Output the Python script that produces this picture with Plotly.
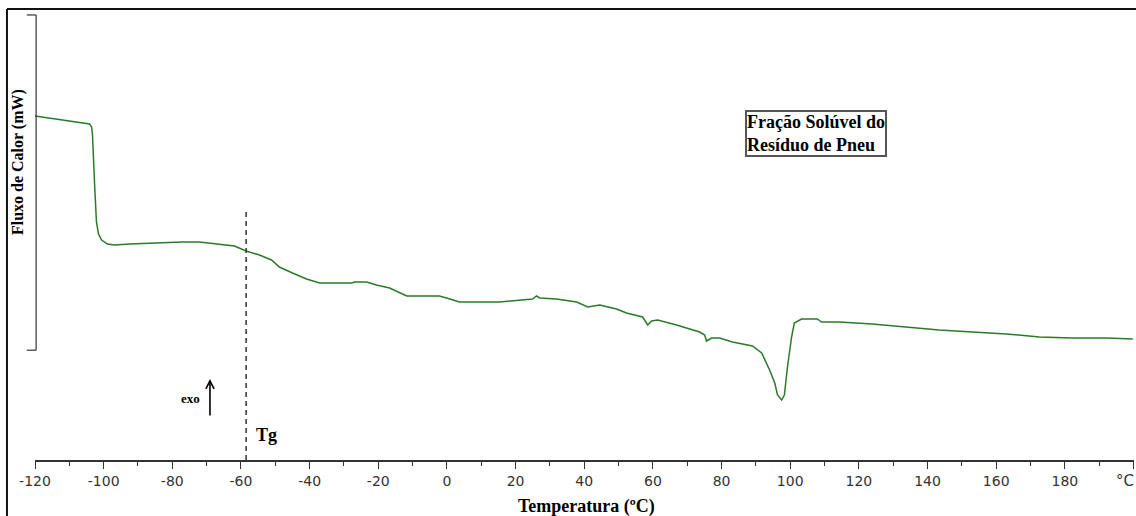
import plotly.graph_objects as go

# DSC curve: temperature (°C) and heat flow (mW, arbitrary offset)
temperature = [-120, -104.1, -103.5, -103.25, -102.7, -102.1, -101.5, -100.6, -98.9, -96.8,
               -92.5, -86.6, -77.0, -72.1, -66.3, -61.9, -58.5, -54.6, -51.1, -48.8,
               -45.0, -40.9, -37.1, -27.8, -26.9, -23.4, -20.5, -16.7, -11.7, -2.2,
               -0.1, 3.7, 7.5, 15.4, 24.9, 26.1, 27.0, 31.9, 37.8, 41.0,
               44.5, 49.4, 52.3, 57.0, 58.5, 59.6, 61.4, 66.9, 73.6, 75.1,
               75.6, 77.1, 79.4, 83.2, 89.0, 91.7, 94.0, 95.5, 96.3, 97.5,
               98.3, 99.2, 100.4, 101.2, 103.3, 107.9, 109.1, 114.3, 123.9, 133.8,
               143.4, 153.1, 163.0, 172.6, 182.2, 192.2, 199.8]
heat_flow = [3.44, 3.36, 3.33, 3.25, 2.80, 2.38, 2.26, 2.20, 2.16, 2.15,
             2.16, 2.17, 2.18, 2.18, 2.16, 2.14, 2.09, 2.05, 2.00, 1.93,
             1.87, 1.81, 1.77, 1.77, 1.78, 1.78, 1.75, 1.72, 1.64, 1.64,
             1.62, 1.58, 1.58, 1.58, 1.61, 1.64, 1.62, 1.61, 1.58, 1.53,
             1.55, 1.51, 1.47, 1.43, 1.35, 1.39, 1.40, 1.35, 1.28, 1.25,
             1.19, 1.22, 1.22, 1.18, 1.14, 1.07, 0.90, 0.77, 0.65, 0.60,
             0.65, 0.93, 1.23, 1.37, 1.41, 1.41, 1.38, 1.38, 1.36, 1.33,
             1.30, 1.28, 1.26, 1.23, 1.22, 1.22, 1.21]

# Glass transition marker
tg_temperature = -58.5

# Axis ticks (the last position carries the unit instead of a number)
major_ticks = [-120, -100, -80, -60, -40, -20, 0, 20, 40, 60, 80, 100, 120, 140, 160, 180, 200]
major_labels = ["-120", "-100", "-80", "-60", "-40", "-20", "0", "20", "40", "60", "80",
                "100", "120", "140", "160", "180", ""]
unit_label = "°C"
minor_ticks = [-110, -90, -70, -50, -30, -10, 10, 30, 50, 70, 90, 110, 130, 150, 170, 190]

serif = "Liberation Serif, Times New Roman, serif"
sans = "Verdana, DejaVu Sans, sans-serif"
tick_font = dict(family=sans, size=14, color="#333333")

fig = go.Figure()
fig.add_trace(go.Scatter(
    x=temperature, y=heat_flow, mode="lines",
    line=dict(color="#2b7a2b", width=1.5),
    hoverinfo="skip", showlegend=False,
))

fig.update_layout(
    width=1136, height=516,
    margin=dict(l=35, r=2, t=10, b=56),
    paper_bgcolor="white", plot_bgcolor="white",
    showlegend=False,
    xaxis=dict(
        range=[-120, 200.15], showgrid=False, zeroline=False,
        showline=True, linecolor="#333333", linewidth=1.5,
        tickmode="array", tickvals=major_ticks, ticktext=major_labels,
        ticks="outside", ticklen=7, tickwidth=1.2, tickcolor="#333333",
        tickfont=tick_font,
        minor=dict(tickmode="array", tickvals=minor_ticks, ticks="outside",
                   ticklen=4, tickwidth=1.2, tickcolor="#333333"),
    ),
    yaxis=dict(
        range=[0, 4.5], showgrid=False, zeroline=False, showline=False,
        showticklabels=False, ticks="",
    ),
)

# Outer frame (left and top edges)
frame = dict(color="#111111", width=2)
fig.add_shape(type="line", xref="paper", yref="paper",
              x0=-0.0255, x1=-0.0255, y0=1.0022, y1=-0.13, line=frame)
fig.add_shape(type="line", xref="paper", yref="paper",
              x0=-0.0255, x1=1.01, y0=1.0022, y1=1.0022, line=frame)

# Heat-flow scale bracket
bracket = dict(color="#333333", width=1.2)
fig.add_shape(type="line", xref="paper", yref="paper",
              x0=0.001, x1=0.001, y0=0.989, y1=0.244, line=bracket)
fig.add_shape(type="line", xref="paper", yref="paper",
              x0=-0.0075, x1=0.001, y0=0.989, y1=0.989, line=bracket)
fig.add_shape(type="line", xref="paper", yref="paper",
              x0=-0.0075, x1=0.001, y0=0.244, y1=0.244, line=bracket)

# Tg dashed line
fig.add_shape(type="line", xref="x", yref="y",
              x0=tg_temperature, x1=tg_temperature, y0=0, y1=2.49,
              line=dict(color="#333333", width=1.5, dash="5px,4px"))

# Unit label at the end of the temperature axis
fig.add_annotation(text=unit_label, xref="paper", yref="paper", x=1.0015, y=-0.0467,
                   showarrow=False, xanchor="right", yanchor="middle",
                   font=dict(family=sans, size=15, color="#333333"))

# Labels
fig.add_annotation(text="<b>Temperatura (ºC)</b>", xref="paper", yref="paper",
                   x=0.502, y=-0.104, showarrow=False, xanchor="center", yanchor="middle",
                   font=dict(family=serif, size=18, color="black"))
fig.add_annotation(text="<b>Fluxo de Calor (mW)</b>", xref="paper", yref="paper",
                   x=-0.0155, y=0.662, showarrow=False, textangle=-90,
                   xanchor="center", yanchor="middle",
                   font=dict(family=serif, size=16, color="black"))
fig.add_annotation(text="<b>Fração Solúvel do<br>Resíduo de Pneu</b>",
                   xref="paper", yref="paper", x=0.7107, y=0.7256,
                   showarrow=False, xanchor="center", yanchor="middle", align="left",
                   font=dict(family=serif, size=18, color="black"),
                   bordercolor="#555555", borderwidth=2, borderpad=0, bgcolor="white")
fig.add_annotation(text="<b>Tg</b>", xref="paper", yref="paper", x=0.211, y=0.0556,
                   showarrow=False, xanchor="center", yanchor="middle",
                   font=dict(family=serif, size=18, color="black"))
fig.add_annotation(text="<b>exo</b>", xref="paper", yref="paper", x=0.1415, y=0.1356,
                   showarrow=False, xanchor="center", yanchor="middle",
                   font=dict(family=serif, size=13, color="black"))
fig.add_annotation(text="", xref="paper", yref="paper", x=0.1592, y=0.18,
                   ax=0, ay=38, showarrow=True, arrowhead=5, arrowsize=1,
                   arrowwidth=1.6, arrowcolor="black")

fig.write_html("out.html")
